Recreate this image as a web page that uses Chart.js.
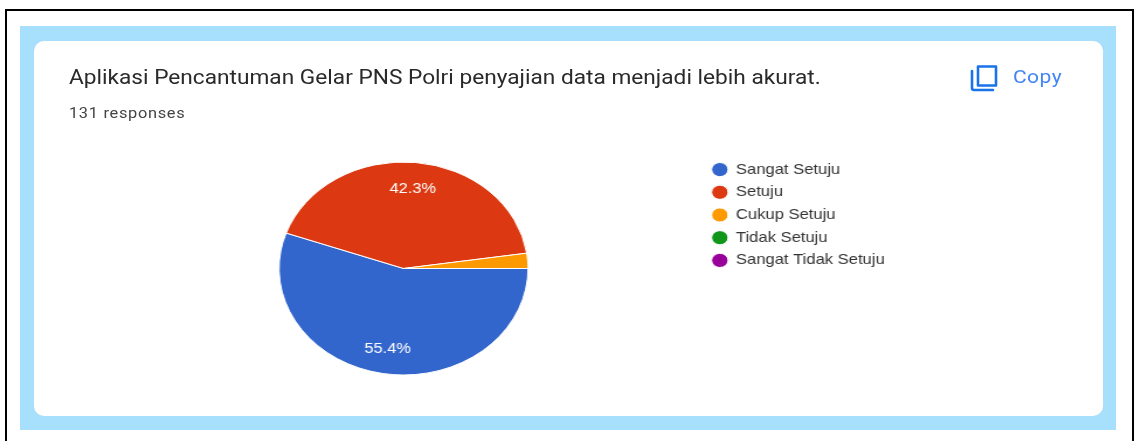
<!DOCTYPE html>
<html><head><meta charset="utf-8">
<style>
html,body{margin:0;padding:0;background:#fff;width:1134px;height:441px;overflow:hidden}
.abs{position:absolute}
#frame{left:5px;top:9px;width:1125px;height:440px;border:2px solid #000}
#band{left:20px;top:26px;width:1096px;height:404px;background:#a6e0fc}
#card{left:34px;top:41px;width:1069px;height:375px;background:#fff;border-radius:10px;box-shadow:0 0 1px #c8d4da}
#layer{left:0;top:0;width:970px;height:441px;transform-origin:0 0;transform:scaleX(1.169)}
#title{left:59px;top:66px;font:19.4px Roboto,sans-serif;color:#2a2a2a;white-space:nowrap;letter-spacing:0}
#sub{left:59px;top:105px;font:14px Roboto,sans-serif;color:#444;white-space:nowrap;letter-spacing:.6px}
#copy{left:866.5px;top:66px;font:400 18px Roboto,sans-serif;color:#4285f4;white-space:nowrap;letter-spacing:.4px}
#icon{left:970px;top:64px}
canvas{position:absolute;left:0;top:150px}
</style></head><body>
<div class="abs" id="frame"></div>
<div class="abs" id="band"></div>
<div class="abs" id="card"></div>
<svg class="abs" id="icon" width="30" height="28" viewBox="0 0 30 28">
<path d="M8 2.5h18a1.5 1.5 0 0 1 0 0v19H8z" fill="none" stroke="#1a73e8" stroke-width="2.6" stroke-linejoin="round"/>
<path d="M2 7v17a2 2 0 0 0 2 2h19" fill="none" stroke="#1a73e8" stroke-width="2.6" stroke-linecap="round"/>
</svg>
<div class="abs" id="layer">
<div class="abs" id="title">Aplikasi Pencantuman Gelar PNS Polri penyajian data menjadi lebih akurat.</div>
<div class="abs" id="sub">131 responses</div>
<div class="abs" id="copy">Copy</div>
<canvas id="c" width="800" height="240"></canvas>
</div>
<script src="https://cdn.jsdelivr.net/npm/chart.js@4"></script>
<script>
const categories = ["Sangat Setuju","Setuju","Cukup Setuju","Tidak Setuju","Sangat Tidak Setuju"];
const shares = [55.4,42.3,2.3,0,0];
const sliceColors = ["#3366cc","#dc3912","#ff9900","#109618","#990099"];
const labelMinShare = 5;
const legendLift = 7.5;

const pctLabels = {
  id:'pctLabels',
  afterLayout(chart){
    chart.legend.top -= legendLift;
    chart.legend.bottom -= legendLift;
  },
  afterDatasetsDraw(chart){
    const ctx = chart.ctx, meta = chart.getDatasetMeta(0);
    ctx.save();
    ctx.font = '14px "Liberation Sans", Arial, sans-serif';
    ctx.fillStyle = '#fff';
    ctx.textAlign = 'center';
    ctx.textBaseline = 'middle';
    meta.data.forEach((arc,i)=>{
      if(shares[i] < labelMinShare) return;
      const p = arc.getProps(['x','y','startAngle','endAngle','outerRadius'],true);
      const a = (p.startAngle+p.endAngle)/2, r = p.outerRadius*0.76;
      ctx.fillText(shares[i].toFixed(1)+'%', p.x+Math.cos(a)*r, p.y+Math.sin(a)*r+1);
    });
    ctx.restore();
  }
};

new Chart(document.getElementById('c'),{
  type:'pie',
  data:{labels:categories,datasets:[{data:shares,backgroundColor:sliceColors,borderColor:'#fff',borderWidth:1,hoverOffset:0}]},
  options:{
    responsive:false,animation:false,rotation:90,
    layout:{padding:{left:89.84,right:33.2,top:11.5,bottom:14.5}},
    plugins:{
      tooltip:{enabled:false},
      legend:{position:'right',align:'start',
        labels:{usePointStyle:true,pointStyle:'circle',boxHeight:10,boxWidth:13.4,padding:8.5,color:'#333',
          font:{family:'"Liberation Sans", Arial, sans-serif',size:14.2}}}
    }
  },
  plugins:[pctLabels]
});
</script>
</body></html>
